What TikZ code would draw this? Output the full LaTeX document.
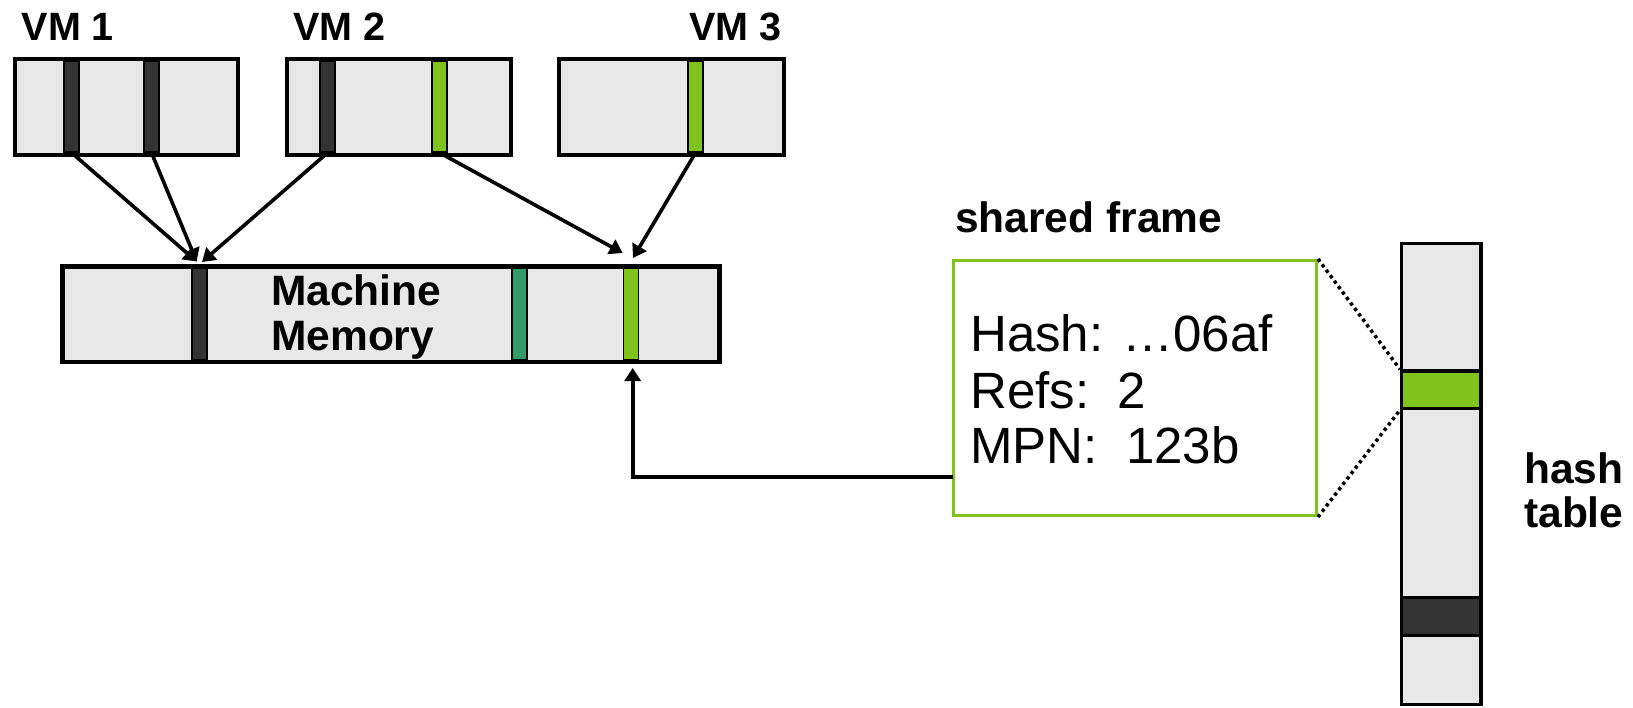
\documentclass[tikz,border=0pt]{standalone}
\usepackage{fontspec}
\setmainfont{Liberation Sans}
\usetikzlibrary{arrows.meta}
\definecolor{cellgray}{HTML}{E8E8E8}
\definecolor{darkbar}{HTML}{333333}
\definecolor{limegreen}{HTML}{80C31C}
\definecolor{tealbar}{HTML}{339A6A}
\tikzset{
  membox/.style={draw=black, fill=cellgray, line width=4pt, inner sep=0pt},
  tablebox/.style={draw=black, fill=cellgray, line width=3.3pt, inner sep=0pt},
  barcell/.style={draw=black, line width=1.6pt, inner sep=0pt, minimum width=15pt},
  lbl/.style={font=\fontsize{42.5}{46}\selectfont\bfseries, inner sep=0pt, anchor=base west},
  vmlbl/.style={font=\fontsize{39.5}{42}\selectfont\bfseries, inner sep=0pt, anchor=base west},
  infotxt/.style={font=\fontsize{51}{56}\selectfont, inner sep=0pt, anchor=base west},
  conn/.style={line width=3.6pt, -{Triangle[length=13pt,width=16pt]}},
  zoomline/.style={line width=3.5pt, dash pattern=on 3.3pt off 3.5pt}
}
\begin{document}
\begin{tikzpicture}[x=1pt,y=-1pt]
\useasboundingbox (0,0) rectangle (1633,707);
% labels
\node[vmlbl] (l1) at (21.5,40.7) {VM 1};
\node[vmlbl] (l2) at (293,40.7) {VM 2};
\node[vmlbl] (l3) at (689,40.7) {VM 3};
% VM boxes
\node[membox, minimum width=223pt, minimum height=96pt] (vm1) at (126.7,106.5) {};
\node[membox, minimum width=224pt, minimum height=96pt] (vm2) at (399,106.5) {};
\node[membox, minimum width=225pt, minimum height=96pt] (vm3) at (671.5,106.5) {};
% VM bars
\node[barcell, fill=darkbar, minimum height=91pt] (v1a) at (71.7,106.5) {};
\node[barcell, fill=darkbar, minimum height=91pt] (v1b) at (151.5,106.5) {};
\node[barcell, fill=darkbar, minimum height=91pt] (v2a) at (327.5,106.5) {};
\node[barcell, fill=limegreen, minimum height=91pt] (v2g) at (439.7,106.5) {};
\node[barcell, fill=limegreen, minimum height=91pt] (v3g) at (695.5,106.5) {};
% machine memory
\node[membox, line width=4.5pt, minimum width=657pt, minimum height=95.5pt] (mm) at (391.2,314) {};
\node[barcell, fill=darkbar, minimum height=91pt] (mmd) at (199.2,314) {};
\node[barcell, fill=tealbar, minimum height=91pt] (mmt) at (519.5,314) {};
\node[barcell, fill=limegreen, minimum height=91pt] (mmg) at (631,314) {};
\node[lbl] (mach) at (271,305.7) {Machine};
\node[lbl] (memo) at (271,350) {Memory};
% arrows VM -> MM
\coordinate (t1) at (196.7,261.5);
\coordinate (t2) at (202,262);
\coordinate (t3) at (622.7,253);
\coordinate (t4) at (633,258);
\draw[conn] (v1a.south) -- (t1);
\draw[conn] (v1b.south) -- (t1);
\draw[conn] (v2a.south) -- (t2);
\draw[conn] (v2g.south) -- (t3);
\draw[conn] (v3g.south) -- (t4);
% shared frame
\node[lbl] (sf) at (955,232) {shared frame};
\node[draw=limegreen, line width=3pt, fill=white, inner sep=0pt, minimum width=363pt, minimum height=255pt] (frame) at (1135,388) {};
\node[infotxt] (h1) at (970,351.7) {Hash: …06af};
\node[infotxt] (h2) at (970,408.3) {Refs:\ \ 2};
\node[infotxt] (h3) at (970,463.3) {MPN:\ \ 123b};
% frame -> MM
\coordinate (fl) at (953,476.7);
\coordinate (t6) at (632.7,368);
\draw[conn] (fl) -| (t6);
% hash table
\node[tablebox, minimum width=79.3pt, minimum height=461pt] (ht) at (1441.3,474) {};
\node[tablebox, fill=limegreen, minimum width=79.3pt, minimum height=37.4pt] (hg) at (1441.3,389.6) {};
\node[tablebox, fill=darkbar, minimum width=79.3pt, minimum height=37.4pt] (hd) at (1441.3,616.5) {};
\node[lbl] (hh) at (1524,483) {hash};
\node[lbl] (hl) at (1524,527) {table};
% dotted zoom lines
\draw[zoomline] (frame.north east) -- (hg.north west);
\draw[zoomline] (frame.south east) -- (hg.south west);
\end{tikzpicture}
\end{document}
